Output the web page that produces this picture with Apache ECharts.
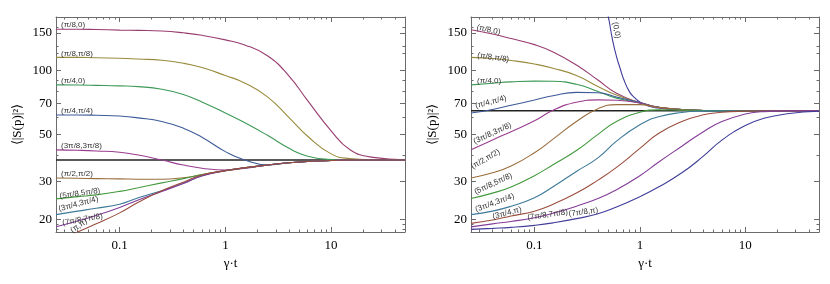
<!DOCTYPE html>
<html><head><meta charset="utf-8">
<script src="https://cdn.jsdelivr.net/npm/echarts@6/dist/echarts.min.js"></script>
<style>html,body{margin:0;padding:0;background:#fff}#c{width:830px;height:284px}</style>
</head><body><div id="c"></div>
<script>
// ---------- data ----------
const T = [0.025,0.04,0.06,0.1,0.15,0.25,0.4,0.6,1,1.5,2.5,4,6,10,15,25,50];
const X_RANGE = [0.025, 50];
const Y_RANGE = [17.4, 178];
const X_MAJOR = [0.1, 1, 10];
const X_MINOR = [0.03,0.04,0.05,0.06,0.07,0.08,0.09,0.2,0.3,0.4,0.5,0.6,0.7,0.8,0.9,2,3,4,5,6,7,8,9,20,30,40,50];
const Y_MAJOR = [20, 30, 50, 70, 100, 150];
const Y_MINOR = [18, 19, 40, 60, 80, 90, 120, 130, 160];

// left panel
const L_NAMES = ['(π/8,0)','(π/8,π/8)','(π/4,0)','(π/4,π/4)','(3π/8,3π/8)','(π/2,π/2)','(5π/8,5π/8)','(3π/4,3π/4)','(7π/8,7π/8)','(π,π)'];
const L_PI8_0   = [156,156,155.5,154.5,154,153,150,146,139,132,117,94,72,52,42.5,39,38];
const L_PI8_PI8 = [115,115,114.5,114,113,111.5,108,103,94.5,87.5,75,60,49,40.5,38.5,38,37.9];
const L_PI4_0   = [85.4,85.3,85,84.5,83.8,81.5,77,71,63,57,49.5,43,39.5,38.1,37.9,37.9,37.9];
const L_PI4_PI4 = [61.7,61.7,61.5,61,59.8,57.5,53.5,48.5,41.5,38,36,36.8,37.3,37.7,37.9,37.9,37.9];
const L_3PI8    = [42.3,42.1,41.8,41.2,40,37.9,35.9,34.7,34,34.6,35.9,36.8,37.3,37.7,37.9,37.9,37.9];
const L_PI2     = [31.2,31.1,31,30.9,30.8,30.8,31.3,32.3,33.8,34.8,35.9,36.8,37.3,37.7,37.9,37.9,37.9];
const L_5PI8    = [24.9,25.5,26,27,28.1,29.6,31,32.4,33.8,34.8,35.9,36.8,37.3,37.7,37.9,37.9,37.9];
const L_3PI4    = [21,21.8,22.5,23.5,25.2,27.2,29.5,32,33.8,34.8,35.9,36.8,37.3,37.7,37.9,37.9,37.9];
const L_7PI8    = [18.4,19.6,20.8,22.7,24.6,27,29.4,31.9,33.8,34.8,35.9,36.8,37.3,37.7,37.9,37.9,37.9];
const L_PI      = [15.6,17.4,19,21.4,24,27.2,29.8,32.2,33.8,34.8,35.9,36.8,37.3,37.7,37.9,37.9,37.9];
const L_LIMIT = 37.9;

// right panel
const R_NAMES = ['(0,0)','(π/8,0)','(π/8,π/8)','(π/4,0)','(π/4,π/4)','(3π/8,3π/8)','(π/2,π/2)','(5π/8,5π/8)','(3π/4,3π/4)','(3π/4,π)','(7π/8,7π/8)','(7π/8,π)'];
const R_00_T    = [0.42,0.5,0.55,0.6,0.65,0.7,0.8,0.9,1,1.2,1.5,2,3,5,10,50];
const R_00      = [260,180,139,116,102,91,79,74,71,68,66.5,65.5,64.9,64.6,64.5,64.5];
const R_PI8_0   = [155,148,141,132,122,106,90,78,70.5,67,65.5,64.8,64.6,64.5,64.5,64.5,64.5];
const R_PI8_PI8 = [115,113.6,111.2,107,102.3,94.6,84,76.5,70.5,67,65.5,64.8,64.6,64.5,64.5,64.5,64.5];
const R_PI4_0   = [85.4,87,88.2,89,88.8,86,79.5,74,70.3,67,65.5,64.8,64.6,64.5,64.5,64.5,64.5];
const R_PI4_PI4 = [63,65.5,68.5,72.5,76,78.8,78.5,75,70.5,67,65.4,64.8,64.6,64.5,64.5,64.5,64.5];
const R_3PI8    = [42.3,47.1,51.5,57.9,65,70.8,72.6,72.3,70.2,67,65.4,64.8,64.6,64.5,64.5,64.5,64.5];
const R_PI2     = [31.2,33,35.5,41,47.5,57.5,66,69,69,67,65.4,64.8,64.6,64.5,64.5,64.5,64.5];
const R_5PI8    = [25,26.5,28.3,32,36,42,50,57.5,63.5,65.2,65,64.8,64.6,64.5,64.5,64.5,64.5];
const R_3PI4    = [21,21.8,23,25.2,28.4,33.5,38.8,46.5,55.5,60.5,63.4,64.3,64.5,64.5,64.5,64.5,64.5];
const R_3PI4_PI = [19.1,19.8,20.7,21.8,23.5,26.5,30.5,35,43,50.5,57.5,61.8,63.5,64.3,64.5,64.5,64.5];
const R_7PI8    = [18.4,19,19.5,20.3,21.3,23,25,27.5,32,37,44,51.5,57.5,62.3,64,64.5,64.5];
const R_7PI8_PI = [17.9,18.1,18.3,18.7,19.2,20.1,21.2,22.8,25.5,28.3,33,39.5,47,55,59.5,62.5,64.2];
const R_LIMIT = 64.5;

// ---------- styles ----------
const COL = {c00:'#3f3d99', pink:'#993d71', olive:'#998b3d', green:'#3d9956', blue:'#3d5a99', magenta:'#993d90',
  brown:'#996d3d', green2:'#43993d', lblue:'#3d7999', purple:'#843d99', red:'#994e3d'};
const SERIF = "'Liberation Serif', 'Times New Roman', serif";
const SANS = "'Liberation Sans', Arial, sans-serif";
const FRAME = '#6b6b6b';

const LEFT = [
  {v:L_PI8_0,   c:COL.pink,    lab:{i:0, r:0,  o:[5,-4]}},
  {v:L_PI8_PI8, c:COL.olive,   lab:{i:0, r:0,  o:[5,-4]}},
  {v:L_PI4_0,   c:COL.green,   lab:{i:0, r:0,  o:[5,-4]}},
  {v:L_PI4_PI4, c:COL.blue,    lab:{i:0, r:0,  o:[5,-4]}},
  {v:L_3PI8,    c:COL.magenta, lab:{i:0, r:0,  o:[5,-4]}},
  {v:L_PI2,     c:COL.brown,   lab:{i:0, r:0,  o:[5,-4]}},
  {v:L_5PI8,    c:COL.green2,  lab:{i:0, r:8,  o:[4,-2]}},
  {v:L_3PI4,    c:COL.lblue,   lab:{i:0, r:15, o:[4,-4.5]}},
  {v:L_7PI8,    c:COL.purple,  lab:{i:0, r:10, o:[7,-2.5]}},
  {v:L_PI,      c:COL.red,     lab:{i:2, r:35, o:[-24.6,-8.4]}}
];
const RIGHT = [
  {t:R_00_T, v:R_00, c:COL.c00, lab:{i:2, r:-80, o:[-17,-5.5]}},
  {v:R_PI8_0,   c:COL.pink,    lab:{i:0, r:-12, o:[5,-3.5]}},
  {v:R_PI8_PI8, c:COL.olive,   lab:{i:0, r:-8,  o:[6,-3]}},
  {v:R_PI4_0,   c:COL.green,   lab:{i:0, r:0,   o:[6,-4.5]}},
  {v:R_PI4_PI4, c:COL.blue,    lab:{i:0, r:15,  o:[6,-5.5]}},
  {v:R_3PI8,    c:COL.magenta, lab:{i:0, r:25,  o:[6,-6]}},
  {v:R_PI2,     c:COL.brown,   lab:{i:0, r:30,  o:[6,-9]}},
  {v:R_5PI8,    c:COL.green2,  lab:{i:0, r:25,  o:[6,-4]}},
  {v:R_3PI4,    c:COL.lblue,   lab:{i:0, r:20,  o:[6,-3]}},
  {v:R_3PI4_PI, c:COL.red,     lab:{i:1, r:15,  o:[1,-3]}},
  {v:R_7PI8,    c:COL.purple,  lab:{i:3, r:8,   o:[-7,-1]}},
  {v:R_7PI8_PI, c:COL.c00,     lab:{i:5, r:8,   o:[-7,-5.5]}}
];

const GRIDS = [{left:56, top:17, width:349, height:215}, {left:471, top:17, width:348, height:215}];

function fmt(v){ return String(+(+v).toPrecision(6)); }

function xAxes(g){
  const base = {type:'log', logBase:10, min:X_RANGE[0], max:X_RANGE[1], gridIndex:g, splitLine:{show:false}, minorTick:{show:false}};
  const line = {show:true, lineStyle:{color:FRAME, width:1}};
  return [
    Object.assign({}, base, {position:'bottom', axisLine:line,
      axisTick:{show:true, inside:true, length:5, customValues:X_MAJOR, lineStyle:{color:FRAME}},
      axisLabel:{show:true, customValues:X_MAJOR, formatter:fmt, margin:7, fontFamily:SERIF, fontSize:13, color:'#000'},
      name:'γ·t', nameLocation:'middle', nameGap:20, nameTextStyle:{fontFamily:SERIF, fontSize:13, color:'#000'}}),
    Object.assign({}, base, {position:'bottom', axisLine:{show:false},
      axisTick:{show:true, inside:true, length:2.5, customValues:X_MINOR, lineStyle:{color:FRAME}}, axisLabel:{show:false}}),
    Object.assign({}, base, {position:'top', axisLine:line,
      axisTick:{show:true, inside:true, length:5, customValues:X_MAJOR, lineStyle:{color:FRAME}}, axisLabel:{show:false}}),
    Object.assign({}, base, {position:'top', axisLine:{show:false},
      axisTick:{show:true, inside:true, length:2.5, customValues:X_MINOR, lineStyle:{color:FRAME}}, axisLabel:{show:false}})
  ];
}
function yAxes(g){
  const base = {type:'log', logBase:10, min:Y_RANGE[0], max:Y_RANGE[1], gridIndex:g, splitLine:{show:false}, minorTick:{show:false}};
  const line = {show:true, lineStyle:{color:FRAME, width:1}};
  return [
    Object.assign({}, base, {position:'left', axisLine:line,
      axisTick:{show:true, inside:true, length:5, customValues:Y_MAJOR, lineStyle:{color:FRAME}},
      axisLabel:{show:true, customValues:Y_MAJOR, formatter:fmt, margin:4, fontFamily:SERIF, fontSize:13, color:'#000'},
      name:'⟨|S(p)|²⟩', nameLocation:'middle', nameGap:32, nameTextStyle:{fontFamily:SERIF, fontSize:13, color:'#000'}}),
    Object.assign({}, base, {position:'left', axisLine:{show:false},
      axisTick:{show:true, inside:true, length:2.5, customValues:Y_MINOR, lineStyle:{color:FRAME}}, axisLabel:{show:false}}),
    Object.assign({}, base, {position:'right', axisLine:line,
      axisTick:{show:true, inside:true, length:5, customValues:Y_MAJOR, lineStyle:{color:FRAME}}, axisLabel:{show:false}}),
    Object.assign({}, base, {position:'right', axisLine:{show:false},
      axisTick:{show:true, inside:true, length:2.5, customValues:Y_MINOR, lineStyle:{color:FRAME}}, axisLabel:{show:false}})
  ];
}

function curve(spec, name, g){
  const ts = spec.t || T;
  const data = ts.map((t, i) => {
    const item = {value:[t, spec.v[i]]};
    if (i === spec.lab.i) {
      item.label = {show:true, formatter:name, position:'right', distance:0, offset:spec.lab.o, rotate:spec.lab.r,
        align:'left', verticalAlign:'middle', fontFamily:SANS, fontSize:8, color:'#333'};
    }
    return item;
  });
  return {type:'line', name:name, xAxisIndex:g*4, yAxisIndex:g*4, data:data, symbol:'circle', symbolSize:0,
    showSymbol:true, showAllSymbol:true, smooth:0.5, clip:true,
    lineStyle:{color:spec.c, width:1.1}, itemStyle:{color:spec.c}, label:{show:false}, emphasis:{disabled:true}, z:3};
}
function limitLine(v, g){
  return {type:'line', xAxisIndex:g*4, yAxisIndex:g*4, data:[[X_RANGE[0], v],[X_RANGE[1], v]], symbol:'none',
    lineStyle:{color:'#222', width:1.5}, emphasis:{disabled:true}, z:2};
}

const series = [];
LEFT.forEach((s, k) => series.push(curve(s, L_NAMES[k], 0)));
RIGHT.forEach((s, k) => series.push(curve(s, R_NAMES[k], 1)));
series.push(limitLine(L_LIMIT, 0));
series.push(limitLine(R_LIMIT, 1));

const chart = echarts.init(document.getElementById('c'), null, {renderer:'canvas', width:830, height:284});
chart.setOption({
  animation:false,
  backgroundColor:'#fff',
  grid:GRIDS,
  xAxis:xAxes(0).concat(xAxes(1)),
  yAxis:yAxes(0).concat(yAxes(1)),
  series:series
});
</script>
</body></html>
